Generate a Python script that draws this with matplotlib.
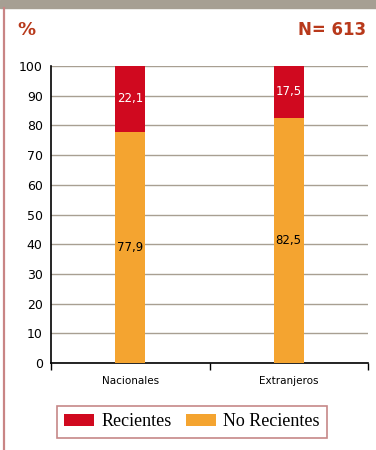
import matplotlib.pyplot as plt
from matplotlib.patches import Rectangle
from matplotlib.lines import Line2D
import numpy as np

# data
categories = ['Nacionales', 'Extranjeros']
no_recientes = [77.9, 82.5]
recientes = [22.1, 17.5]
yticks = list(range(0, 101, 10))

red = '#d0091f'
orange = '#f4a430'
title_col = '#b8391b'
grid_col = '#a89f92'

fig = plt.figure(figsize=(3.76, 4.5), dpi=100)

# frame decorations: gray band on top, pinkish line on left
fig.patches.append(Rectangle((0, 1 - 8 / 450), 1, 8 / 450, transform=fig.transFigure,
                             color='#a69f93', zorder=0))
fig.lines.append(Line2D([3.5 / 376, 3.5 / 376], [0, 1 - 8 / 450], transform=fig.transFigure,
                        color='#c98585', lw=1.6))

ax = fig.add_axes([51 / 376, 1 - 363 / 450, 317 / 376, 297 / 450])
x = np.arange(len(categories))
w = 0.19
ax.bar(x, no_recientes, w, color=orange, label='No Recientes', zorder=3)
ax.bar(x, recientes, w, bottom=no_recientes, color=red, label='Recientes', zorder=3)

for i in range(len(categories)):
    ax.text(x[i], no_recientes[i] / 2, f'{no_recientes[i]:.1f}'.replace('.', ','),
            ha='center', va='center', fontsize=8.5, color='black', zorder=4)
    ax.text(x[i], no_recientes[i] + recientes[i] / 2, f'{recientes[i]:.1f}'.replace('.', ','),
            ha='center', va='center', fontsize=8.5, color='white', zorder=4)

ax.set_xlim(-0.5, 1.5)
ax.set_ylim(0, 100)
ax.set_yticks(yticks)
ax.set_yticklabels([str(v) for v in yticks], fontsize=9)
ax.tick_params(axis='y', length=0, pad=6)
ax.set_yticks([0], minor=True)
ax.tick_params(axis='y', which='minor', length=4, width=1, color='black')
ax.set_xticks([-0.5, 0.5, 1.5])
ax.set_xticklabels([])
ax.set_xticks(x, minor=True)
ax.set_xticklabels(categories, minor=True, fontsize=7.5)
ax.tick_params(axis='x', which='major', length=5, width=1, direction='out')
ax.tick_params(axis='x', which='minor', length=0, pad=9)
ax.yaxis.grid(True, color=grid_col, lw=1, zorder=0)
for s in ['top', 'right']:
    ax.spines[s].set_visible(False)
ax.spines['left'].set_linewidth(1.2)
ax.spines['bottom'].set_linewidth(1.2)

fig.text(17 / 376, 1 - 30 / 450, '%', color=title_col, fontsize=13, fontweight='bold',
         ha='left', va='center')
fig.text(366 / 376, 1 - 30 / 450, 'N= 613', color=title_col, fontsize=12, fontweight='bold',
         ha='right', va='center')

handles, labels = ax.get_legend_handles_labels()
leg = fig.legend(handles[::-1], labels[::-1], loc='center', bbox_to_anchor=(192 / 376, 1 - 422 / 450),
                 ncol=2, frameon=True, fancybox=False, prop={'family': 'Liberation Serif', 'size': 13},
                 handlelength=1.65, handleheight=0.6, columnspacing=0.8, handletextpad=0.4,
                 borderpad=0.4)
leg.get_frame().set_edgecolor('#b86a6a')
leg.get_frame().set_linewidth(1.2)

fig.savefig('out.png', dpi=100)
